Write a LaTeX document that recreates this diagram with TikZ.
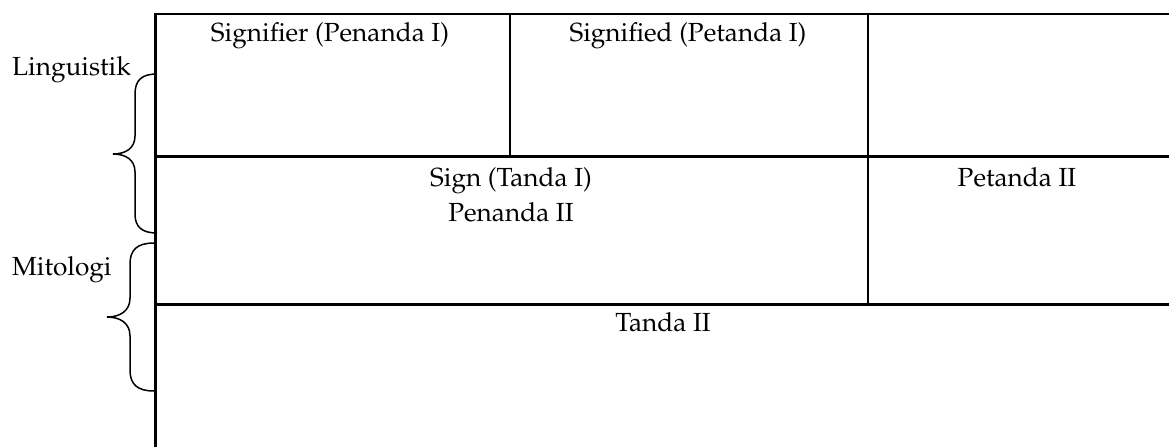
\documentclass[tikz,border=0pt]{standalone}
\usepackage[T1]{fontenc}
\usepackage{mathpazo}
\begin{document}
\begin{tikzpicture}[x=1pt,y=-1pt,
  rule/.style={line width=2.2pt},
  bracecurve/.style={line width=1.5pt},
  cell/.style={inner sep=0pt,anchor=base,font=\fontsize{26.2}{31}\selectfont},
  side/.style={inner sep=0pt,anchor=base west,font=\fontsize{26.2}{31}\selectfont}]
\useasboundingbox (0,0) rectangle (1169,447);

% grid corners
\coordinate (tl) at (155.5,14);
\coordinate (tr) at (1169,14);
\coordinate (bl) at (155.5,447);
\coordinate (r1l) at (155.5,156.5);
\coordinate (r1r) at (1169,156.5);
\coordinate (r2l) at (155.5,304.5);
\coordinate (r2r) at (1169,304.5);
\coordinate (c1t) at (510,14);
\coordinate (c1b) at (510,156.5);
\coordinate (c2t) at (868,14);
\coordinate (c2b) at (868,304.5);

% table rules
\draw[rule] (bl) -- (tl) -- (tr);
\draw[rule] (r1l) -- (r1r);
\draw[rule] (r2l) -- (r2r);
\draw[rule] (c1t) -- (c1b);
\draw[rule] (c2t) -- (c2b);

% cell texts
\node[cell] (sr1) at (330,41.7) {Signifier (Penanda I)};
\node[cell] (sd1) at (688,41.7) {Signified (Petanda I)};
\node[cell] (sg1) at (511,186.7) {Sign (Tanda I)};
\node[cell] (sr2) at (511,221) {Penanda II};
\node[cell] (sd2) at (1017,186.7) {Petanda II};
\node[cell] (sg2) at (663,331) {Tanda II};

% side labels
\node[side] (ling) at (12,75) {Linguistik};
\node[side] (mito) at (12,275) {Mitologi};

% braces
\draw[bracecurve] (157,74) .. controls (142,74) and (135,80) .. (135,94)
  -- (135,136) .. controls (135,148) and (126,154) .. (113,154)
  .. controls (126,154) and (135,160) .. (135,172)
  -- (135,214) .. controls (135,227) and (142,233) .. (157,233);
\draw[bracecurve] (154,243) .. controls (137,243) and (130,250) .. (130,264)
  -- (130,298) .. controls (130,311) and (120,317) .. (107,317)
  .. controls (120,317) and (130,323) .. (130,336)
  -- (130,370) .. controls (130,384) and (137,391) .. (154,391);
\end{tikzpicture}
\end{document}
